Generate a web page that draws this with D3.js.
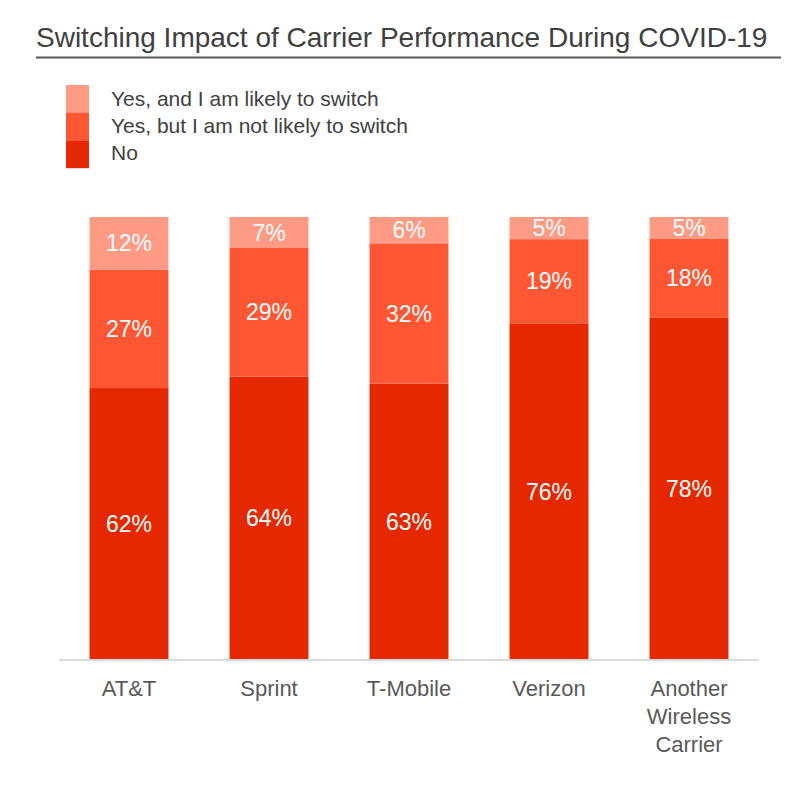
<!DOCTYPE html>
<html>
<head>
<meta charset="utf-8">
<script src="https://cdn.jsdelivr.net/npm/d3@7"></script>
<style>
  body { margin: 0; background: #fff; }
  svg text { font-family: "Liberation Sans", Arial, sans-serif; }
</style>
</head>
<body>
<svg width="811" height="789"></svg>
<script>
// 数据
var carriers = ["AT&T", "Sprint", "T-Mobile", "Verizon", "Another Wireless Carrier"];
var noSwitch = [62, 64, 63, 76, 78];
var notLikely = [27, 29, 32, 19, 18];
var likely = [12, 7, 6, 5, 5];
var seriesNames = ["No", "Yes, but I am not likely to switch", "Yes, and I am likely to switch"];
var colors = ["#e62800", "#ff5733", "#ff9a85"];

var rows = carriers.map(function (c, i) {
    return { name: c, s0: noSwitch[i], s1: notLikely[i], s2: likely[i] };
});

const svg = d3.select('svg');
const margin = { left: 59, right: 52, top: 217, bottom: 129 };
const width = +svg.attr('width');
const height = +svg.attr('height');

// 标题
svg.append('text')
    .attr('x', 36).attr('y', 47)
    .attr('font-size', 28)
    .attr('fill', '#404040')
    .text('Switching Impact of Carrier Performance During COVID-19');
svg.append('line')
    .attr('x1', 36).attr('x2', 781)
    .attr('y1', 57.5).attr('y2', 57.5)
    .attr('stroke', '#595959').attr('stroke-width', 2);

// 图例
var legendItems = seriesNames.slice().reverse();
var legendColors = colors.slice().reverse();
var legend = svg.append('g').attr('transform', 'translate(66,85)');
legendItems.forEach(function (n, i) {
    legend.append('rect')
        .attr('x', 0).attr('y', i * 27.7)
        .attr('width', 23).attr('height', 27.8)
        .attr('fill', legendColors[i]);
    legend.append('text')
        .attr('x', 45).attr('y', i * 27.2 + 21)
        .attr('font-size', 21)
        .attr('fill', '#404040')
        .text(n);
});

const xScale = d3.scaleBand()
    .domain(carriers)
    .range([margin.left, width - margin.right])
    .paddingInner(0.436)
    .paddingOuter(0.218);

const yScale = d3.scaleLinear()
    .domain([0, 1])
    .range([height - margin.bottom, margin.top]);

var keys = ["s0", "s1", "s2"];
var norm = rows.map(function (r) {
    var t = r.s0 + r.s1 + r.s2;
    return { name: r.name, s0: r.s0 / t, s1: r.s1 / t, s2: r.s2 / t, raw: r };
});
var stacked = d3.stack().keys(keys)(norm);

var layer = svg.selectAll('.layer')
    .data(stacked)
    .join('g')
    .attr('class', 'layer')
    .attr('fill', (d, i) => colors[i]);

layer.selectAll('rect')
    .data(d => d)
    .join('rect')
    .attr('x', d => xScale(d.data.name))
    .attr('width', xScale.bandwidth())
    .attr('y', d => yScale(d[1]))
    .attr('height', d => yScale(d[0]) - yScale(d[1]));

// 数值标签
stacked.forEach(function (s) {
    svg.append('g').selectAll('text')
        .data(s)
        .join('text')
        .attr('x', d => xScale(d.data.name) + xScale.bandwidth() / 2)
        .attr('y', d => (yScale(d[0]) + yScale(d[1])) / 2)
        .attr('dy', '0.35em')
        .attr('text-anchor', 'middle')
        .attr('font-size', 23)
        .attr('fill', '#fff')
        .text(d => d.data.raw[s.key] + '%');
});

// x轴
const xAxis = d3.axisBottom(xScale).tickSize(0).tickPadding(0);
const xAxisG = svg.append('g')
    .attr('transform', `translate(0, ${height - margin.bottom})`)
    .call(xAxis);
xAxisG.select('.domain')
    .attr('stroke', '#d9d9d9').attr('stroke-width', 2)
    .attr('d', `M${margin.left},0H${width - margin.right}`);
xAxisG.selectAll('.tick text').remove();
xAxisG.selectAll('.tick').each(function (d) {
    var words = d === "Another Wireless Carrier" ? ["Another", "Wireless", "Carrier"] : [d];
    var t = d3.select(this).append('text')
        .attr('text-anchor', 'middle')
        .attr('font-size', 22)
        .attr('fill', '#595959');
    words.forEach(function (w, i) {
        t.append('tspan').attr('x', 0).attr('y', 36 + i * 28).text(w);
    });
});
</script>
</body>
</html>
